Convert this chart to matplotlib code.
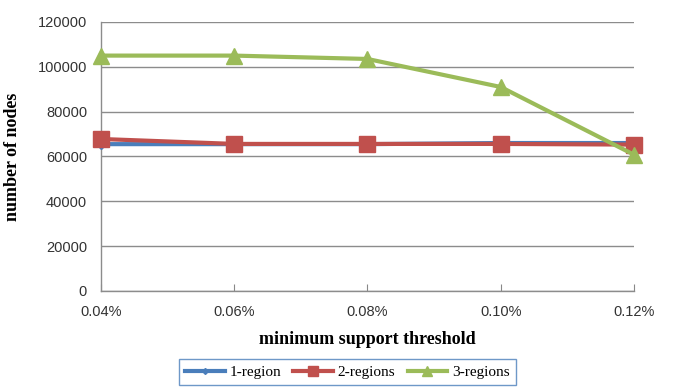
import matplotlib
matplotlib.use("Agg")
import matplotlib.pyplot as plt

thresholds = ["0.04%", "0.06%", "0.08%", "0.10%", "0.12%"]
one_region = [65500, 65500, 65500, 66000, 66000]
two_regions = [67800, 65600, 65600, 65600, 65300]
three_regions = [105000, 105000, 103500, 91000, 60800]
y_ticks = [0, 20000, 40000, 60000, 80000, 100000, 120000]

fig = plt.figure(figsize=(6.73, 3.91), dpi=100)
ax = fig.add_axes([0.150, 0.2558, 0.792, 0.688])

x = list(range(len(thresholds)))
ax.plot(x, one_region, color="#4A7EBB", lw=3, marker="D", ms=5, label="1-region",
        zorder=3, clip_on=False)
ax.plot(x, two_regions, color="#C0504D", lw=3, marker="s", ms=11, label="2-regions",
        zorder=4, clip_on=False)
ax.plot(x, three_regions, color="#9BBB59", lw=3, marker="^", ms=11, label="3-regions",
        zorder=5, clip_on=False)

ax.set_xlim(0, len(thresholds) - 1)
ax.set_ylim(0, 120000)
ax.set_xticks(x)
ax.set_xticklabels(thresholds, family="Liberation Sans", fontsize=10.5, color="#333333")
ax.set_yticks(y_ticks)
ax.set_yticklabels([str(v) for v in y_ticks], family="Liberation Sans", fontsize=10.5, color="#333333")
ax.tick_params(axis="x", direction="in", length=5, color="#888888", pad=10)
ax.tick_params(axis="y", length=0, pad=10)
ax.grid(axis="y", color="#8C8C8C", lw=1)
ax.set_axisbelow(True)
for s in ["top", "right"]:
    ax.spines[s].set_visible(False)
for s in ["left", "bottom"]:
    ax.spines[s].set_color("#8C8C8C")
    ax.spines[s].set_linewidth(1)

ax.set_xlabel("minimum support threshold", family="Liberation Serif", fontweight="bold",
              fontsize=13, labelpad=9)
ax.set_ylabel("number of nodes", family="Liberation Serif", fontweight="bold",
              fontsize=13, labelpad=12)

leg = fig.legend(loc="upper center", bbox_to_anchor=(0.516, 0.081), ncol=3,
                 prop={"family": "Liberation Serif", "size": 11}, frameon=True,
                 fancybox=False, borderpad=0.4, borderaxespad=0, markerscale=0.6,
                 handlelength=2.6, handletextpad=0.3, columnspacing=0.8)
leg.get_frame().set_edgecolor("#4A7EBB")
leg.get_frame().set_linewidth(1)

fig.savefig("out.png", dpi=100)
